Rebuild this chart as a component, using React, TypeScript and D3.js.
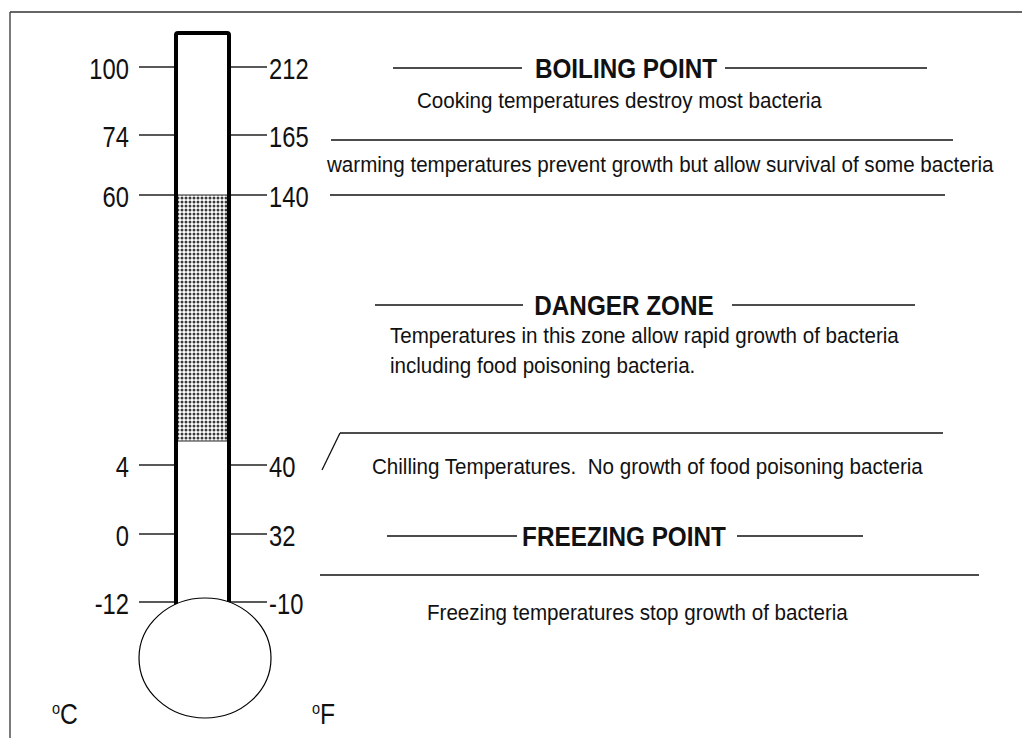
import * as d3 from "d3";

// temperature marks on the two scales (same rows)
const celsius = [100, 74, 60, 4, 0, -12];
const fahrenheit = [212, 165, 140, 40, 32, -10];
const dangerZone = [5, 60];

const headings = ["BOILING POINT", "DANGER ZONE", "FREEZING POINT"];
const notes = [
  "Cooking temperatures destroy most bacteria",
  "warming temperatures prevent growth but allow survival of some bacteria",
  "Temperatures in this zone allow rapid growth of bacteria",
  "including food poisoning bacteria.",
  "Chilling Temperatures.  No growth of food poisoning bacteria",
  "Freezing temperatures stop growth of bacteria",
];

const W = 1022;
const H = 738;
const FONT = "'Liberation Sans', Arial, sans-serif";

// schematic thermometer: rows are not evenly spaced in degrees
const scaleDomain = [100, 74, 60, 5, 4, 0, -12];
const scaleRows = [67, 135, 195, 441, 465, 534, 602];

// heading rows: text centre, rule y and the two rule segments
const headingLayout = [
  { cx: 626, y: 68, left: [393, 522], right: [725, 927] },
  { cx: 624, y: 305, left: [375, 523], right: [732, 915] },
  { cx: 624, y: 536, left: [387, 517], right: [737, 863] },
];
const noteLayout = [
  { x: 417, y: 108 },
  { x: 327, y: 172 },
  { x: 390, y: 343 },
  { x: 390, y: 373 },
  { x: 372, y: 474 },
  { x: 427, y: 620 },
];
const rules = [
  { y: 140, x1: 331, x2: 953 },
  { y: 195, x1: 330, x2: 945 },
  { y: 433, x1: 340, x2: 943 },
  { y: 575, x1: 320, x2: 979 },
];

// condensed text: the original face is a narrow grotesque
function Narrow({ x, y, sx, anchor = "start", size, bold = false, children }: any) {
  return (
    <g transform={`translate(${x},${y}) scale(${sx},1)`}>
      <text
        textAnchor={anchor}
        fontSize={size}
        fontWeight={bold ? "bold" : "normal"}
        fill="#111"
        style={{ whiteSpace: "pre" }}
      >
        {children}
      </text>
    </g>
  );
}

export default function App() {
  const y = d3.scaleLinear().domain(scaleDomain).range(scaleRows);

  const tubeX = 176;
  const tubeW = 53;
  const tubeTop = 33;
  const bulb = { cx: 205, cy: 658, rx: 66, ry: 60 };

  return (
    <svg
      width={W}
      height={H}
      style={{ position: "absolute", left: 0, top: 0, background: "#fff" }}
      fontFamily={FONT}
    >
      <defs>
        <pattern id="dots" width={4} height={4} patternUnits="userSpaceOnUse">
          <rect width={4} height={4} fill="#fff" />
          <circle cx={2} cy={2} r={1.5} fill="#3a3a3a" />
        </pattern>
      </defs>

      {/* frame */}
      <line x1={10} y1={12} x2={W} y2={12} stroke="#333" strokeWidth={1.3} />
      <line x1={10} y1={12} x2={10} y2={H} stroke="#333" strokeWidth={1.3} />

      {/* danger zone fill */}
      <rect
        x={tubeX}
        y={y(dangerZone[1])}
        width={tubeW}
        height={y(dangerZone[0]) - y(dangerZone[1])}
        fill="url(#dots)"
        stroke="#222"
        strokeWidth={1}
      />

      {/* tube */}
      <rect
        x={tubeX}
        y={tubeTop}
        width={tubeW}
        height={640 - tubeTop}
        rx={2}
        fill="none"
        stroke="#000"
        strokeWidth={4}
      />
      <ellipse {...bulb} fill="#fff" stroke="#000" strokeWidth={1.2} />

      {/* scale ticks and labels */}
      {celsius.map((c, i) => (
        <g key={c}>
          <line x1={139} x2={tubeX - 2} y1={y(c)} y2={y(c)} stroke="#222" strokeWidth={1.5} />
          <line x1={tubeX + tubeW + 2} x2={267} y1={y(c)} y2={y(c)} stroke="#222" strokeWidth={1.5} />
          <Narrow x={129} y={y(c) + 12} sx={0.82} anchor="end" size={29}>
            {c}
          </Narrow>
          <Narrow x={269} y={y(c) + 12} sx={0.82} size={29}>
            {fahrenheit[i]}
          </Narrow>
        </g>
      ))}

      {/* unit labels */}
      {[
        { x: 52, unit: "C" },
        { x: 312, unit: "F" },
      ].map((u) => (
        <g key={u.unit} transform={`translate(${u.x},724) scale(0.85,1)`}>
          <text fontSize={29} fill="#111">
            <tspan fontSize={17} dy={-10}>o</tspan>
            <tspan dy={10}>{u.unit}</tspan>
          </text>
        </g>
      ))}

      {/* headings with rules */}
      {headings.map((h, i) => {
        const l = headingLayout[i];
        return (
          <g key={h}>
            <line x1={l.left[0]} x2={l.left[1]} y1={l.y} y2={l.y} stroke="#111" strokeWidth={1.5} />
            <line x1={l.right[0]} x2={l.right[1]} y1={l.y} y2={l.y} stroke="#111" strokeWidth={1.5} />
            <Narrow x={l.cx} y={l.y + 10} sx={0.9} anchor="middle" size={27} bold>
              {h}
            </Narrow>
          </g>
        );
      })}

      {/* divider rules */}
      {rules.map((r) => (
        <line key={r.y} x1={r.x1} x2={r.x2} y1={r.y} y2={r.y} stroke="#111" strokeWidth={1.5} />
      ))}
      <line x1={340} y1={433} x2={322} y2={470} stroke="#111" strokeWidth={1.3} />

      {/* descriptions */}
      {notes.map((n, i) => (
        <Narrow key={n} x={noteLayout[i].x} y={noteLayout[i].y} sx={0.915} size={22.5}>
          {n}
        </Narrow>
      ))}
    </svg>
  );
}
